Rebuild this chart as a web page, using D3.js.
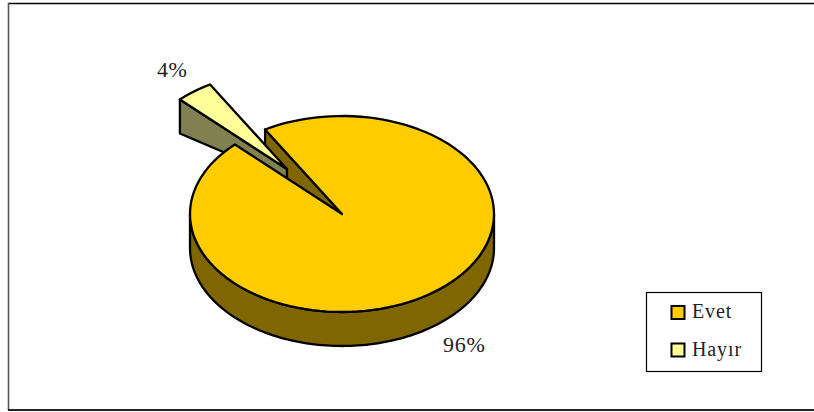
<!DOCTYPE html>
<html>
<head>
<meta charset="utf-8">
<script src="https://cdn.jsdelivr.net/npm/d3@7"></script>
<style>
html,body{margin:0;padding:0;background:#fff}
svg{display:block}
text{font-family:"Liberation Serif","Times New Roman",serif;fill:#222}
</style>
</head>
<body>
<svg id="c" width="814" height="412"></svg>
<script>
const categories = ["Evet", "Hayır"];
const values = [96, 4];
const labels = ["96%", "4%"];
const topColors = ["#FFCC00", "#FFFF99"];
const sideColors = ["#806600", "#808050"];

const svg = d3.select("#c");
const W = 814, H = 412;
const cx = 342, cy = 214, rx = 152, ry = 98, depth = 34;
const burst = [-55, -45];
const startDeg = -30.4;
const rad = d => d * Math.PI / 180;

// frame
svg.append("line").attr("x1",8).attr("x2",W).attr("y1",3.5).attr("y2",3.5).attr("stroke","#000").attr("stroke-width",1.4);
svg.append("line").attr("x1",8.5).attr("x2",8.5).attr("y1",3).attr("y2",410).attr("stroke","#555").attr("stroke-width",1.6);
svg.append("line").attr("x1",8).attr("x2",W).attr("y1",410).attr("y2",410).attr("stroke","#222").attr("stroke-width",2);

const pie = d3.pie().sort(null).startAngle(rad(startDeg)).endAngle(rad(startDeg + 360));
const arcs = pie(values);

const px = (a, ox=0) => cx + ox + rx * Math.sin(a);
const py = (a, oy=0) => cy + oy - ry * Math.cos(a);
const line = d3.line().curve(d3.curveLinear);
const samples = (a0, a1) => d3.range(0, 121).map(i => a0 + (a1 - a0) * i / 120);
const stroke = s => s.attr("stroke","#000").attr("stroke-width",2.3).attr("stroke-linejoin","round");

const main = arcs[0], small = arcs[1];

// main slice: rounded side band on the front half
const sideA = samples(rad(90), rad(270));
const band = sideA.map(a => [px(a), py(a)]).concat(sideA.slice().reverse().map(a => [px(a), py(a, depth)]));
svg.append("path").attr("d", line(band) + "Z").attr("fill", sideColors[0]).call(stroke);

// main slice: cut wall seen through the gap
const sa = main.startAngle;
svg.append("path")
  .attr("d", line([[cx,cy],[px(sa),py(sa)],[px(sa),py(sa,depth)],[cx,cy+depth]]) + "Z")
  .attr("fill", sideColors[0]).call(stroke);

// exploded slice: wall and top
const [bx, by] = burst;
const sm0 = small.startAngle, sm1 = small.endAngle;
svg.append("path")
  .attr("d", line([[cx+bx,cy+by],[px(sm0,bx),py(sm0,by)],[px(sm0,bx),py(sm0,by+depth)],[cx+bx,cy+by+depth*0.3]]) + "Z")
  .attr("fill", sideColors[1]).call(stroke);
const smTop = [[cx+bx,cy+by]].concat(samples(sm0, sm1).map(a => [px(a,bx),py(a,by)]));
svg.append("path").attr("d", line(smTop) + "Z").attr("fill", topColors[1]).call(stroke);

// main slice: top
const mTop = [[cx,cy]].concat(samples(main.startAngle, main.endAngle).map(a => [px(a),py(a)]));
svg.append("path").attr("d", line(mTop) + "Z").attr("fill", topColors[0]).call(stroke);

// data labels
svg.append("text").attr("x",443).attr("y",352).attr("font-size",22).attr("letter-spacing",0.8).text(labels[0]);
svg.append("text").attr("x",157).attr("y",77).attr("font-size",22).attr("letter-spacing",0.5).text(labels[1]);

// legend
svg.append("rect").attr("x",646.5).attr("y",292.5).attr("width",115).attr("height",79)
  .attr("fill","#fff").attr("stroke","#000").attr("stroke-width",1.2);
const rowY = d3.scalePoint().domain(categories).range([312.5, 350]);
const row = svg.selectAll("g.l").data(categories).join("g").attr("class","l")
  .attr("transform", d => `translate(0,${rowY(d)})`);
row.append("rect").attr("x",671.5).attr("y",-6.5).attr("width",13).attr("height",13)
  .attr("fill",(d,i)=>topColors[i]).attr("stroke","#000").attr("stroke-width",2);
row.append("text").attr("x",692).attr("y",5.5).attr("font-size",20).attr("letter-spacing",0.9).text(d=>d);
</script>
</body>
</html>
